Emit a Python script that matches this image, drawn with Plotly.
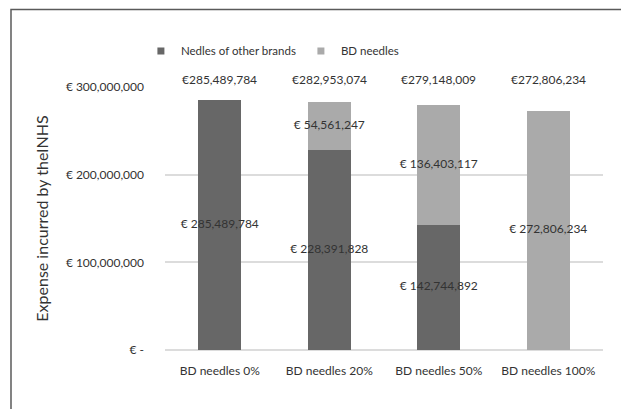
import plotly.graph_objects as go

categories = ["BD needles 0%", "BD needles 20%", "BD needles 50%", "BD needles 100%"]
other_brands = [285489784, 228391828, 142744892, 0]
bd_needles = [0, 54561247, 136403117, 272806234]
totals = [285489784, 282953074, 279148009, 272806234]
tick_vals = [0, 100000000, 200000000, 300000000]
tick_text = ["€ -", "€ 100,000,000", "€ 200,000,000", "€ 300,000,000"]

DARK = "#676767"
LIGHT = "#aaaaaa"
TXT = "#333333"
FONT = "Lato"
FS = 12

def fmt(v):
    return "€ {:,}".format(v)

fig = go.Figure()
fig.add_trace(go.Bar(x=categories, y=other_brands, name="Nedles of other brands",
                     marker=dict(color=DARK, line=dict(width=0)), width=0.39,
                     showlegend=False))
fig.add_trace(go.Bar(x=categories, y=bd_needles, name="BD needles",
                     marker=dict(color=LIGHT, line=dict(width=0)), width=0.39,
                     showlegend=False))

# legend entries with small square markers
for name, col in [("Nedles of other brands", DARK), ("BD needles", LIGHT)]:
    fig.add_trace(go.Scatter(x=[None], y=[None], mode="markers", name=name,
                             marker=dict(symbol="square", size=7, color=col)))

# segment labels (centered on each segment, allowed to overflow the bar)
lx, ly, lt = [], [], []
for c, o, b in zip(categories, other_brands, bd_needles):
    if o:
        lx.append(c); ly.append(o / 2); lt.append(fmt(o))
    if b:
        lx.append(c); ly.append(o + b / 2); lt.append(fmt(b))
fig.add_trace(go.Scatter(x=lx, y=ly, text=lt, mode="text", showlegend=False,
                         textfont=dict(family=FONT, size=FS, color=TXT),
                         hoverinfo="skip", cliponaxis=False))

for c, t in zip(categories, totals):
    fig.add_annotation(x=c, y=300000000, text="€{:,}".format(t), showarrow=False,
                       yanchor="middle", yshift=8,
                       font=dict(family=FONT, size=FS, color=TXT))

fig.add_shape(type="rect", xref="paper", yref="paper",
              x0=-0.3516, x1=1.2, y0=-0.5, y1=1.2947,
              line=dict(color="#5a5a5a", width=1.5), layer="above")

fig.update_layout(
    barmode="stack",
    width=621, height=409,
    margin=dict(l=165, r=18, t=87, b=59),
    paper_bgcolor="white", plot_bgcolor="white",
    font=dict(family=FONT, size=FS, color=TXT),
    bargap=0.61,
    legend=dict(orientation="h", x=-0.055, xanchor="left", y=1.137, yanchor="middle",
                font=dict(family=FONT, size=11.5, color=TXT),
                traceorder="normal", itemwidth=30, tracegroupgap=0),
    xaxis=dict(showgrid=False, showline=False, ticks="", tickfont=dict(size=FS),
               ticklabelstandoff=12),
    yaxis=dict(range=[0, 300000000], tickvals=tick_vals, ticktext=tick_text,
               showgrid=True, gridcolor="#dcdcdc", gridwidth=1.5, zeroline=True,
               zerolinecolor="#dcdcdc", zerolinewidth=1.5,
               ticks="", ticklen=0, automargin=False, ticklabelstandoff=20,
               title=dict(text="Expense incurred by theINHS", font=dict(size=16, color=TXT),
                          standoff=13)),
    showlegend=True,
)
fig.write_html("out.html")
